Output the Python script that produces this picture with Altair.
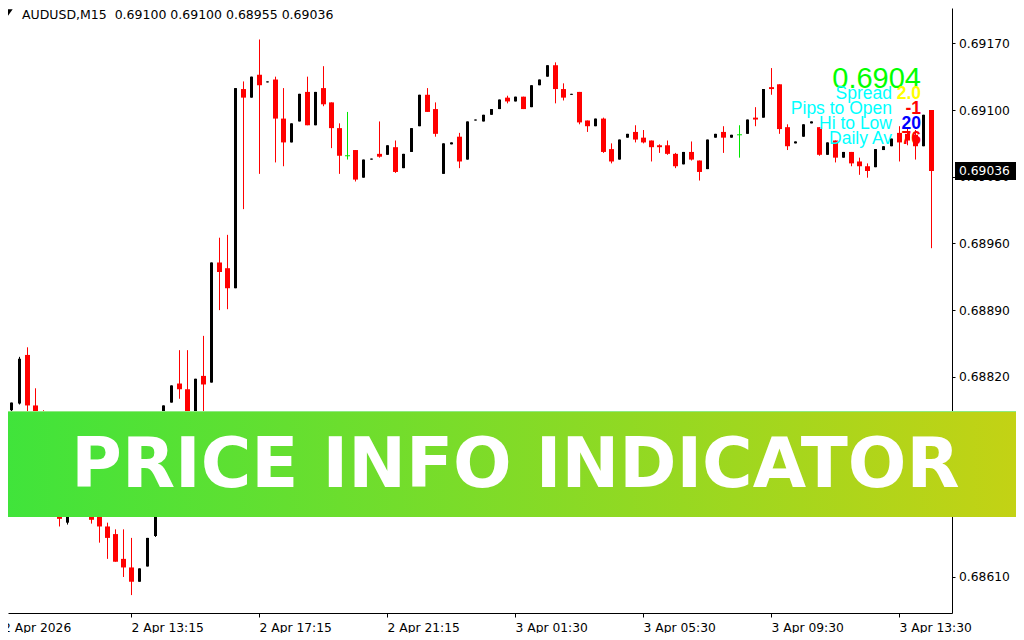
import json
import altair as alt
import numpy as np
import pandas as pd

# ---------------- data ----------------
bar_index = list(range(1, 117))
opens = [0.68785, 0.68792, 0.68843, 0.68790, 0.68776, 0.68748, 0.68711, 0.68667, 0.68695, 0.68682,
         0.68692, 0.68677, 0.68663, 0.68655, 0.68629, 0.68620, 0.68605, 0.68621, 0.68653, 0.68722,
         0.68793, 0.68813, 0.68807, 0.68774, 0.68821, 0.68814, 0.68940, 0.68934, 0.68913, 0.69122,
         0.69113, 0.69137, 0.69129, 0.69132, 0.69091, 0.69066, 0.69088, 0.69119, 0.69084, 0.69123,
         0.69108, 0.69081, 0.69052, 0.69058, 0.69029, 0.69048, 0.69054, 0.69053, 0.69061, 0.69039,
         0.69056, 0.69083, 0.69116, 0.69101, 0.69033, 0.69064, 0.69072, 0.69048, 0.69089, 0.69088,
         0.69095, 0.69101, 0.69113, 0.69109, 0.69114, 0.69103, 0.69126, 0.69135, 0.69147, 0.69122,
         0.69116, 0.69119, 0.69089, 0.69083, 0.69091, 0.69059, 0.69048, 0.69071, 0.69077, 0.69071,
         0.69068, 0.69063, 0.69063, 0.69054, 0.69043, 0.69056, 0.69047, 0.69038, 0.69071, 0.69077,
         0.69071, 0.69074, 0.69075, 0.69092, 0.69092, 0.69124, 0.69127, 0.69082, 0.69065, 0.69072,
         0.69086, 0.69082, 0.69053, 0.69068, 0.69050, 0.69056, 0.69046, 0.69041, 0.69040, 0.69058,
         0.69062, 0.69076, 0.69075, 0.69074, 0.69062, 0.69100]
highs = [0.68793, 0.68841, 0.68851, 0.68808, 0.68785, 0.68753, 0.68716, 0.68701, 0.68703, 0.68695,
         0.68696, 0.68682, 0.68667, 0.68660, 0.68660, 0.68651, 0.68619, 0.68651, 0.68727, 0.68790,
         0.68811, 0.68848, 0.68848, 0.68818, 0.68863, 0.68940, 0.68966, 0.68969, 0.69123, 0.69130,
         0.69135, 0.69174, 0.69130, 0.69135, 0.69123, 0.69086, 0.69117, 0.69135, 0.69119, 0.69146,
         0.69108, 0.69086, 0.69098, 0.69058, 0.69048, 0.69049, 0.69088, 0.69063, 0.69068, 0.69054,
         0.69081, 0.69116, 0.69123, 0.69108, 0.69065, 0.69066, 0.69076, 0.69088, 0.69090, 0.69095,
         0.69101, 0.69111, 0.69115, 0.69114, 0.69114, 0.69126, 0.69132, 0.69147, 0.69150, 0.69128,
         0.69117, 0.69119, 0.69089, 0.69091, 0.69092, 0.69065, 0.69069, 0.69075, 0.69084, 0.69079,
         0.69068, 0.69064, 0.69068, 0.69055, 0.69056, 0.69067, 0.69047, 0.69069, 0.69075, 0.69083,
         0.69074, 0.69084, 0.69090, 0.69103, 0.69122, 0.69144, 0.69127, 0.69085, 0.69067, 0.69085,
         0.69088, 0.69082, 0.69066, 0.69068, 0.69056, 0.69056, 0.69050, 0.69044, 0.69059, 0.69062,
         0.69070, 0.69083, 0.69081, 0.69079, 0.69095, 0.69100]
lows = [0.68783, 0.68791, 0.68779, 0.68772, 0.68743, 0.68703, 0.68663, 0.68665, 0.68680, 0.68677,
        0.68666, 0.68646, 0.68629, 0.68626, 0.68610, 0.68591, 0.68605, 0.68621, 0.68652, 0.68719,
        0.68793, 0.68797, 0.68774, 0.68772, 0.68769, 0.68814, 0.68890, 0.68891, 0.68913, 0.68996,
        0.69113, 0.69033, 0.69129, 0.69045, 0.69041, 0.69066, 0.69088, 0.69084, 0.69084, 0.69104,
        0.69060, 0.69033, 0.69048, 0.69025, 0.69029, 0.69048, 0.69050, 0.69053, 0.69034, 0.69039,
        0.69056, 0.69083, 0.69098, 0.69072, 0.69033, 0.69064, 0.69039, 0.69048, 0.69089, 0.69088,
        0.69095, 0.69101, 0.69107, 0.69109, 0.69101, 0.69103, 0.69126, 0.69135, 0.69107, 0.69110,
        0.69116, 0.69085, 0.69077, 0.69083, 0.69055, 0.69044, 0.69048, 0.69071, 0.69066, 0.69065,
        0.69046, 0.69055, 0.69053, 0.69039, 0.69043, 0.69047, 0.69026, 0.69038, 0.69071, 0.69055,
        0.69071, 0.69050, 0.69075, 0.69083, 0.69092, 0.69116, 0.69075, 0.69058, 0.69065, 0.69072,
        0.69086, 0.69052, 0.69053, 0.69045, 0.69050, 0.69041, 0.69032, 0.69029, 0.69040, 0.69058,
        0.69062, 0.69046, 0.69063, 0.69048, 0.69062, 0.68955]
closes = [0.68793, 0.68839, 0.68790, 0.68776, 0.68748, 0.68711, 0.68671, 0.68695, 0.68685, 0.68692,
          0.68670, 0.68663, 0.68651, 0.68626, 0.68620, 0.68605, 0.68619, 0.68651, 0.68722, 0.68790,
          0.68811, 0.68807, 0.68776, 0.68818, 0.68812, 0.68940, 0.68930, 0.68913, 0.69123, 0.69113,
          0.69135, 0.69126, 0.69130, 0.69091, 0.69066, 0.69086, 0.69117, 0.69084, 0.69119, 0.69106,
          0.69081, 0.69052, 0.69052, 0.69027, 0.69048, 0.69049, 0.69051, 0.69063, 0.69035, 0.69054,
          0.69081, 0.69116, 0.69098, 0.69075, 0.69065, 0.69066, 0.69046, 0.69088, 0.69090, 0.69095,
          0.69101, 0.69111, 0.69109, 0.69114, 0.69101, 0.69126, 0.69132, 0.69147, 0.69122, 0.69113,
          0.69117, 0.69087, 0.69083, 0.69091, 0.69056, 0.69046, 0.69069, 0.69075, 0.69069, 0.69066,
          0.69061, 0.69061, 0.69054, 0.69041, 0.69056, 0.69048, 0.69035, 0.69069, 0.69075, 0.69071,
          0.69074, 0.69074, 0.69090, 0.69090, 0.69122, 0.69122, 0.69080, 0.69062, 0.69067, 0.69085,
          0.69088, 0.69053, 0.69066, 0.69050, 0.69056, 0.69044, 0.69041, 0.69036, 0.69059, 0.69062,
          0.69070, 0.69066, 0.69068, 0.69062, 0.69095, 0.69036]

time_label_bars = [0, 16, 32, 48, 64, 80, 96, 112]
time_labels = ["2 Apr 2026", "2 Apr 13:15", "2 Apr 17:15", "2 Apr 21:15",
               "3 Apr 01:30", "3 Apr 05:30", "3 Apr 09:30", "3 Apr 13:30"]
price_ticks = [0.68610, 0.68680, 0.68750, 0.68820, 0.68890, 0.68960, 0.69030, 0.69100, 0.69170]

symbol = "AUDUSD,M15"
info_price = "0.6904"
info_labels = ["Spread", "Pips to Open", "Hi to Low", "Daily Av\u00a0"]
info_values = ["2.0", "-1", "20", "76"]
info_value_colors = ["#ffff00", "#ff0000", "#0000ff", "#ff0000"]
banner_text = "PRICE INFO INDICATOR"

# ---------------- table ----------------
df = pd.DataFrame({"i": bar_index, "open": opens, "high": highs, "low": lows, "close": closes})
df["dir"] = np.select([df["close"] > df["open"], df["close"] < df["open"]], ["up", "down"], "doji")

last_o, last_h, last_l, last_c = opens[-1], highs[-1], lows[-1], closes[-1]

TICK_FONT = "DejaVu Sans"
xs = alt.Scale(domain=[0.625, 118.625], nice=False, zero=False)
ys = alt.Scale(domain=[0.685722, 0.6920705], nice=False, zero=False)
cs = alt.Scale(domain=["up", "down", "doji"], range=["#000000", "#ff0000", "#00e600"])

label_expr = f"{json.dumps(time_labels)}[indexof({json.dumps(time_label_bars)}, datum.value)]"

x_axis = alt.Axis(values=time_label_bars[1:], labelExpr=label_expr, title=None, grid=False,
                  labelAlign="left", labelBaseline="alphabetic", labelPadding=14,
                  tickSize=4, tickColor="black", domainColor="black", domainWidth=1,
                  labelFont=TICK_FONT, labelFontSize=12.3, labelColor="black",
                  labelFlush=False, labelOverlap=False)
y_axis = alt.Axis(orient="right", values=price_ticks, format=".5f", title=None, grid=False,
                  tickSize=3, tickColor="black", domainColor="black", domainWidth=1,
                  labelPadding=3.5, labelBaseline="middle",
                  labelFont=TICK_FONT, labelFontSize=12.3, labelColor="black",
                  labelFlush=False, labelOverlap=False)

base = alt.Chart(df)

wicks = base.mark_rule(xOffset=0.5, strokeWidth=1).encode(
    x=alt.X("i:Q", scale=xs, axis=x_axis),
    y=alt.Y("low:Q", scale=ys, axis=y_axis),
    y2="high",
    color=alt.Color("dir:N", scale=cs, legend=None),
)
red_bodies = base.transform_filter(alt.datum.dir == "down").mark_rect(
    xOffset=-2, x2Offset=3, color="#ff0000"
).encode(x="i:Q", x2="i", y="open:Q", y2="close")
black_bodies = base.transform_filter(alt.datum.dir == "up").mark_rect(
    xOffset=-1, x2Offset=2, color="#000000"
).encode(x="i:Q", x2="i", y="open:Q", y2="close")
doji_bars = base.transform_filter(alt.datum.dir == "doji").mark_rule(
    xOffset=-2, x2Offset=3, color="#00e600", strokeWidth=1
).encode(x="i:Q", x2="i", y="open:Q")

layers = [wicks, red_bodies, black_bodies, doji_bars]


def one(text):
    return alt.Chart(pd.DataFrame({"t": [text]}))


# first time label sits on the left frame
layers.append(
    one(time_labels[0]).mark_text(align="left", baseline="alphabetic", font=TICK_FONT,
                                  fontSize=12.3, color="black")
    .encode(x=alt.datum(time_label_bars[0]), y=alt.value(623.5), text="t:N")
)

# info block
layers.append(
    one(info_price).mark_text(align="right", baseline="alphabetic", font="Liberation Sans",
                              fontSize=29, color="#00ff00")
    .encode(x=alt.value(913), y=alt.value(80), text="t:N")
)
for n, (lab, val, col) in enumerate(zip(info_labels, info_values, info_value_colors)):
    yb = 91 + 15 * n
    layers.append(
        one(lab).mark_text(align="right", baseline="alphabetic", font="Liberation Sans",
                           fontSize=17.5, color="#00ffff")
        .encode(x=alt.value(884), y=alt.value(yb), text="t:N")
    )
    layers.append(
        one(val).mark_text(align="right", baseline="alphabetic", font="Liberation Sans",
                           fontSize=17.5, fontWeight="bold", color=col)
        .encode(x=alt.value(913), y=alt.value(yb), text="t:N")
    )

# current price box on the price scale
price_df = pd.DataFrame({"p": [last_c], "t": [f"{last_c:.5f}"]})
layers.append(
    alt.Chart(price_df).mark_rect(color="black", yOffset=-9, y2Offset=9)
    .encode(x=alt.value(947), x2=alt.value(1008), y="p:Q", y2="p")
)
layers.append(
    alt.Chart(price_df).mark_text(align="left", baseline="middle", font=TICK_FONT,
                                  fontSize=12.3, color="white")
    .encode(x=alt.value(951), y="p:Q", text="t:N")
)

# header
layers.append(
    one("hdr").mark_point(shape="M-1,-0.68L1,-0.68L0,0.68Z", size=88, filled=True,
                          color="black", opacity=1, strokeWidth=0)
    .encode(x=alt.value(0), y=alt.value(4.5))
)
header = f"{symbol}\u00a0 {last_o:.5f} {last_h:.5f} {last_l:.5f} {last_c:.5f}"
layers.append(
    one(header).mark_text(align="left", baseline="alphabetic", font=TICK_FONT,
                          fontSize=12.5, color="black")
    .encode(x=alt.value(14), y=alt.value(10.5), text="t:N")
)

# banner
gradient = {
    "gradient": "linear", "x1": 0, "x2": 1, "y1": 0, "y2": 0,
    "stops": [{"offset": 0, "color": "#3fe43b"}, {"offset": 1, "color": "#c4d214"}],
}
layers.append(
    one("banner").mark_rect(fill=gradient)
    .encode(x=alt.value(-8), x2=alt.value(1016), y=alt.value(404), y2=alt.value(509))
)
layers.append(
    one("edge").mark_rule(color="#8fea82", strokeWidth=1)
    .encode(x=alt.value(-8), x2=alt.value(1016), y=alt.value(403.5))
)
layers.append(
    one(banner_text).mark_text(align="center", baseline="alphabetic", font="DejaVu Sans",
                               fontWeight="bold", fontSize=69, color="white")
    .encode(x=alt.value(507.5), y=alt.value(479), text="t:N")
)

chart = alt.layer(*layers).properties(
    width=944, height=605,
    padding={"left": 0, "top": 0, "right": 64, "bottom": 20},
    autosize=alt.AutoSizeParams(type="none"),
    background="white",
).configure_view(stroke=None)

chart.save("out.html", embed_options={"renderer": "svg", "actions": False})
